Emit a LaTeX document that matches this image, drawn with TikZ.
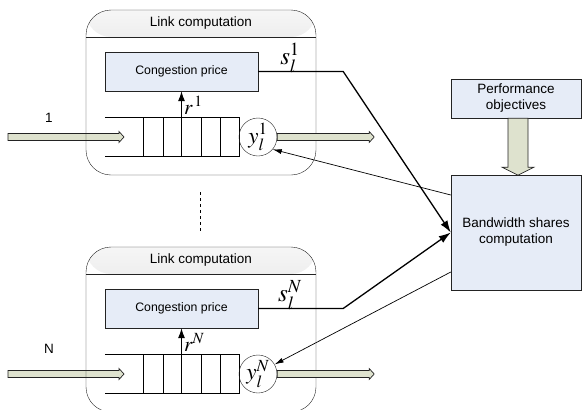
\documentclass[tikz,border=0pt]{standalone}
\usepackage{mathptmx}
\usepackage{fontspec}
\setmainfont{Liberation Sans}
\usetikzlibrary{positioning}
\usetikzlibrary{arrows.meta}
\definecolor{pricefill}{RGB}{230,236,247}
\definecolor{fatfill}{RGB}{222,226,206}
\definecolor{headtop}{RGB}{246,246,246}
\definecolor{headbot}{RGB}{198,198,198}
\definecolor{edge}{RGB}{35,35,35}
\tikzset{
    linkbox/.style={draw=edge, rounded corners=25pt, minimum width=230pt, minimum height=165pt,
        path picture={\shade[top color=headtop, bottom color=headbot]
            (path picture bounding box.north west) rectangle ([yshift=-27pt]path picture bounding box.north east);}},
    pricebox/.style={draw=edge, fill=pricefill, minimum width=153pt, minimum height=39pt,
        font=\fontsize{12.3}{14}\selectfont},
    infobox/.style={draw=edge, fill=pricefill, minimum width=130pt, align=center,
        font=\fontsize{13.5}{16}\selectfont},
    ycirc/.style={circle, draw=edge, minimum size=38pt, inner sep=0pt, font=\fontsize{23}{24}\selectfont},
    fatarrow/.style={draw=edge, fill=fatfill, line width=0.7pt},
    sline/.style={-{Latex[length=12pt,width=8pt]}, line width=1.3pt},
    fbline/.style={-{Latex[length=9pt,width=5pt]}, line width=0.7pt},
    rline/.style={-{Latex[length=10pt,width=7pt]}, line width=1pt},
    txt/.style={font=\fontsize{13.5}{16}\selectfont},
    mathlab/.style={font=\fontsize{25}{26}\selectfont}
}
% fat flow arrow pointing right: start, length
\newcommand\flowright[2]{
    \draw[fatarrow] (#1) ++(0,-3.5) -- ++({#2-5},0) -- ++(0,-2) -- ++(5,5.5)
        -- ++(-5,5.5) -- ++(0,-2) -- ++({5-#2},0) -- cycle;
}

\begin{document}
\begin{tikzpicture}[x=1pt, y=-1pt]
    \useasboundingbox (0,0) rectangle (582,410);
    \clip (0,0) rectangle (582,410);

    % flows into the links
    \coordinate (in1) at (8,137);
    \coordinate (in2) at (8,374);
    \flowright{in1}{116}
    \flowright{in2}{116}
    \node[txt] (lab1) at (49,118) {1};
    \node[txt] (lab2) at (49,349) {N};

    % link 1
    \node[linkbox] (link1) at (201,92.5) {};
    \draw[edge] ([yshift=-27pt]link1.north west) -- ([yshift=-27pt]link1.north east);
    \node[txt] (head1) at ([yshift=-13.5pt]link1.north) {Link computation};
    \node[pricebox] (price1) at (181.5,71.5) {Congestion price};
    \node[minimum width=134pt, minimum height=39pt] (queue1) at (172,136.5) {};
    \draw (queue1.north west) -- (queue1.north east) -- (queue1.south east) -- (queue1.south west);
    \foreach \x in {143,163,181,201,220} \draw (\x,117) -- (\x,156);
    \node[ycirc] (ycirc1) at (258,137) {$y_l^1$};
    \flowright{ycirc1.east}{97}
    \draw[rline] (price1.south |- queue1.north) -- (price1.south)
        node[pos=0.45, right, inner sep=2pt, font=\fontsize{21}{22}\selectfont]{$r^{\,1}$};

    \draw[dashed] (200,192) -- (200,232);

    % link N
    \node[linkbox] (link2) at (201,329.5) {};
    \draw[edge] ([yshift=-27pt]link2.north west) -- ([yshift=-27pt]link2.north east);
    \node[txt] (head2) at ([yshift=-13.5pt]link2.north) {Link computation};
    \node[pricebox] (price2) at (181.5,308.5) {Congestion price};
    \node[minimum width=134pt, minimum height=39pt] (queue2) at (172,373.5) {};
    \draw (queue2.north west) -- (queue2.north east) -- (queue2.south east) -- (queue2.south west);
    \foreach \x in {143,163,181,201,220} \draw (\x,354) -- (\x,393);
    \node[ycirc] (ycirc2) at (258,374) {$y_l^N$};
    \flowright{ycirc2.east}{97}
    \draw[rline] (price2.south |- queue2.north) -- (price2.south)
        node[pos=0.45, right, inner sep=2pt, font=\fontsize{21}{22}\selectfont]{$r^{N}$};

    % shares
    \node[infobox, minimum height=39pt] (perf) at (516,98.5) {Performance\\objectives};
    \node[infobox, minimum height=115pt] (bw) at (516,232.5) {Bandwidth shares\\computation};
    \coordinate (objtop) at ([xshift=2pt]perf.south);
    \draw[fatarrow] (objtop) ++(-10,0) -- ++(0,49) -- ++(-6,0) -- ++(16,8)
        -- ++(16,-8) -- ++(-6,0) -- ++(0,-49) -- cycle;

    \draw[sline] (price1.east) -- ++(85,0) -- (bw.west);
    \draw[sline] (price2.east) -- ++(85,0) -- (bw.west);
    \node[mathlab] (s1) at (290,58) {$s_l^1$};
    \node[mathlab] (s2) at (290,295) {$s_l^N$};

    \draw[fbline] ([yshift=37.5pt]bw.west) -- (ycirc1.-40);
    \draw[fbline] ([yshift=-39.5pt]bw.west) -- (ycirc2.30);
\end{tikzpicture}
\end{document}
